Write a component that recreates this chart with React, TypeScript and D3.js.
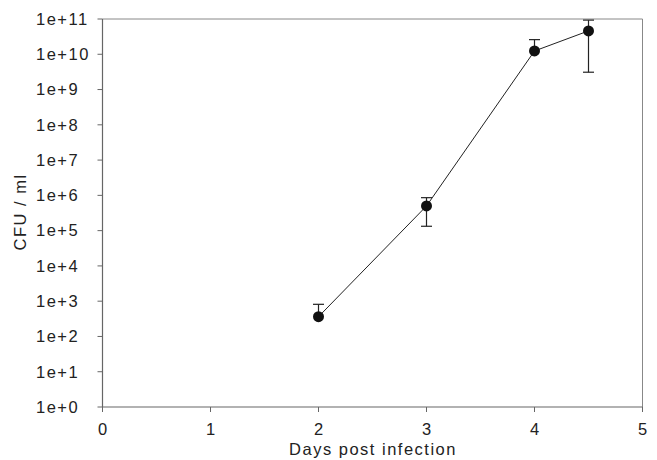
import React from "react";
import { scaleLinear, scaleLog, line } from "d3";

const days = [2, 3, 4, 4.5];
const cfu = [363, 5.0e5, 1.24e10, 4.6e10];
const errUpper = [815, 8.6e5, 2.6e10, 9.3e10];
const errLower = [363, 1.33e5, 1.24e10, 3.1e9];
const xTicks = [0, 1, 2, 3, 4, 5];
const yTicks = [1, 1e1, 1e2, 1e3, 1e4, 1e5, 1e6, 1e7, 1e8, 1e9, 1e10, 1e11];

const App = () => {
  const width = 657;
  const height = 460;
  const left = 102.5;
  const right = 642.5;
  const top = 19;
  const bottom = 407;
  const font = "Liberation Sans, Arial, sans-serif";
  const axisColor = "#666";
  const fs = 16.5;
  const ls = 1.5;

  const x = scaleLinear().domain([0, 5]).range([left, right]);
  const y = scaleLog().domain([1, 1e11]).range([bottom, top]);

  const path = line<number>()
    .x((d, i) => x(days[i]))
    .y((d) => y(d))(cfu);

  return (
    <svg
      width={width}
      height={height}
      style={{ position: "absolute", left: 0, top: 0, background: "#fff" }}
      fontFamily={font}
    >
      {/* frame */}
      <line x1={left} x2={right} y1={top} y2={top} stroke="#888" strokeWidth={1} />
      <line x1={right} x2={right} y1={top} y2={bottom} stroke="#888" strokeWidth={1} />
      <line x1={left} x2={left} y1={top} y2={bottom} stroke={axisColor} strokeWidth={1.2} />
      <line x1={left} x2={right} y1={bottom} y2={bottom} stroke={axisColor} strokeWidth={1.2} />

      {yTicks.map((t, i) => (
        <g key={i}>
          <line x1={left - 5} x2={left} y1={y(t)} y2={y(t)} stroke={axisColor} />
          <text x={36} y={y(t)} dy="0.35em" fontSize={fs} letterSpacing={ls} fill="#222">
            {`1e+${i}`}
          </text>
        </g>
      ))}
      {xTicks.map((t) => (
        <g key={t}>
          <line x1={x(t)} x2={x(t)} y1={bottom} y2={bottom + 5} stroke={axisColor} />
          <text x={x(t)} y={435} textAnchor="middle" fontSize={fs} fill="#222">
            {t}
          </text>
        </g>
      ))}

      <text
        transform={`translate(25.5, 212) rotate(-90)`}
        textAnchor="middle"
        fontSize={fs}
        letterSpacing={ls}
        fill="#222"
      >
        CFU / ml
      </text>
      <text x={373} y={455} textAnchor="middle" fontSize={fs} letterSpacing={ls} fill="#222">
        Days post infection
      </text>

      <path d={path || ""} fill="none" stroke="#222" strokeWidth={1} />

      {days.map((d, i) => (
        <g key={i} stroke="#222" strokeWidth={1.2}>
          <line x1={x(d)} x2={x(d)} y1={y(errUpper[i])} y2={y(errLower[i])} />
          <line x1={x(d) - 5.5} x2={x(d) + 5.5} y1={y(errUpper[i])} y2={y(errUpper[i])} />
          {errLower[i] < cfu[i] && (
            <line x1={x(d) - 5.5} x2={x(d) + 5.5} y1={y(errLower[i])} y2={y(errLower[i])} />
          )}
        </g>
      ))}
      {days.map((d, i) => (
        <circle key={i} cx={x(d)} cy={y(cfu[i])} r={5.5} fill="#111" />
      ))}
    </svg>
  );
};

export default App;
